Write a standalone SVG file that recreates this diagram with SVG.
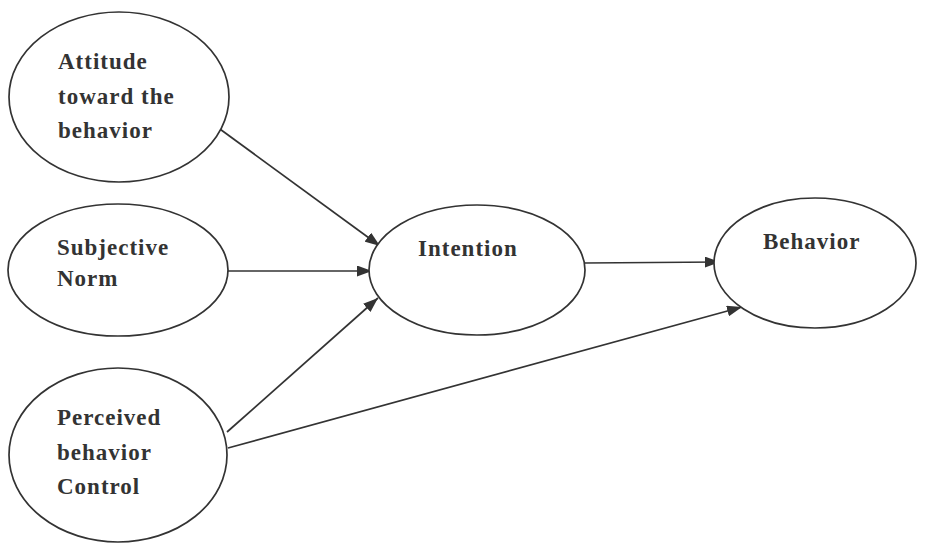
<svg xmlns="http://www.w3.org/2000/svg" width="926" height="543" viewBox="0 0 926 543">
  <style>
    .node { fill: #ffffff; stroke: #333333; stroke-width: 1.7; }
    .label { font-family: "Liberation Serif", "Times New Roman", serif; font-weight: bold; font-size: 23px; letter-spacing: 1px; fill: #333333; }
    .edge { stroke: #333333; stroke-width: 1.7; fill: none; marker-end: url(#arrow); }
  </style>
  <defs>
    <marker id="arrow" viewBox="0 0 15 11" refX="15" refY="5.5" markerWidth="15" markerHeight="11" markerUnits="userSpaceOnUse" orient="auto">
      <path d="M0,0 L15,5.5 L0,11 Z" fill="#333333"/>
    </marker>
  </defs>
  <rect width="926" height="543" fill="#ffffff"/>

  <g id="connectors">
    <line class="edge" x1="213" y1="124" x2="380" y2="246"/>
    <line class="edge" x1="228" y1="271" x2="372" y2="271"/>
    <line class="edge" x1="227" y1="432" x2="378" y2="298"/>
    <line class="edge" x1="228" y1="448" x2="742" y2="307"/>
    <line class="edge" x1="585" y1="263" x2="720" y2="262"/>
  </g>

  <g id="attitude">
    <ellipse class="node" cx="119" cy="97" rx="110" ry="85"/>
    <text class="label" x="58" y="69">Attitude</text>
    <text class="label" x="58" y="104">toward the</text>
    <text class="label" x="58" y="138">behavior</text>
  </g>

  <g id="subjective-norm">
    <ellipse class="node" cx="118" cy="270" rx="110" ry="66"/>
    <text class="label" x="57" y="255">Subjective</text>
    <text class="label" x="57" y="286">Norm</text>
  </g>

  <g id="perceived-control">
    <ellipse class="node" cx="118" cy="455" rx="109" ry="87"/>
    <text class="label" x="57" y="425">Perceived</text>
    <text class="label" x="57" y="460">behavior</text>
    <text class="label" x="57" y="494">Control</text>
  </g>

  <g id="intention">
    <ellipse class="node" cx="477" cy="270" rx="108" ry="65"/>
    <text class="label" x="418" y="256">Intention</text>
  </g>

  <g id="behavior">
    <ellipse class="node" cx="815" cy="263" rx="101" ry="65"/>
    <text class="label" x="763" y="249">Behavior</text>
  </g>
</svg>
